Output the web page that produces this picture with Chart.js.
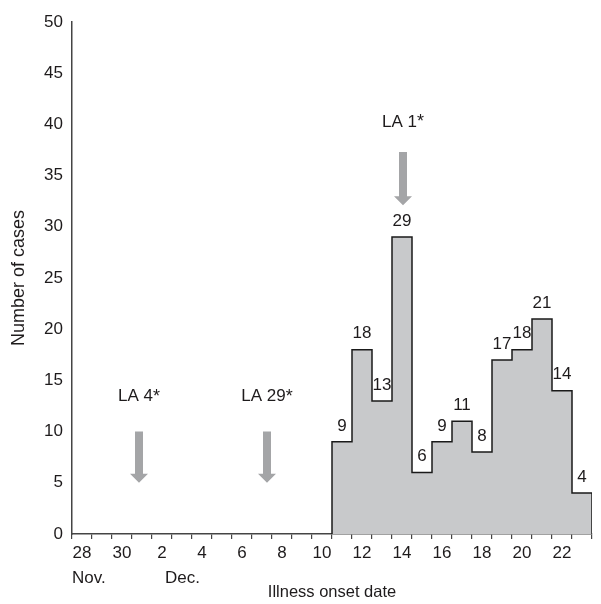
<!DOCTYPE html>
<html><head><meta charset="utf-8">
<script src="https://cdn.jsdelivr.net/npm/chart.js@4.4.1/dist/chart.umd.min.js"></script>
<style>html,body{margin:0;padding:0;background:#fff;}#wrap{width:601px;height:604px;}</style>
</head><body><div id="wrap"><canvas id="c" width="601" height="604"></canvas></div>
<script>
// ---- data ----
const axisDayLabels = ['28','30','2','4','6','8','10','12','14','16','18','20','22']; // every 2nd day from Nov 28
const monthLabels = ['Nov.', 'Dec.'];
const monthStartDay = [0, 4];               // axis day (days since Nov 28) under which month names sit
const onsetDecDays = [11,12,13,14,15,16,17,18,19,20,21,22,23];
const cases = [9,18,13,29,6,9,11,8,17,18,21,14,4];
const exposureLabels = ['LA 4', 'LA 29', 'LA 1'];
const exposureAxisDay = [3.35, 9.75, 16.55];
const exposureTextValue = [13.4, 13.4, 40.2];
const arrowFrom = [10, 10, 37.3];
const arrowTo = [5, 5, 32.1];
const yMax = 50, yStep = 5;

const FONT = '"Liberation Sans", Arial, Helvetica, sans-serif';
const TXT = '#1e1b1c';
const decToAxis = d => d + 2; // Dec 1 -> 3 (Nov 28 = 0)
const axisMax = decToAxis(onsetDecDays[onsetDecDays.length - 1]) + 1;

// step outline points built from the data
const stepPts = [{x: decToAxis(onsetDecDays[0]), y: 0}];
onsetDecDays.forEach((d, i) => stepPts.push({x: decToAxis(d), y: cases[i]}));
stepPts.push({x: decToAxis(onsetDecDays[onsetDecDays.length - 1]) + 1, y: 0});

const annot = {
  id: 'annot',
  afterDatasetsDraw(chart) {
    const {ctx, scales: {x, y}} = chart;
    ctx.save();
    ctx.fillStyle = TXT;
    ctx.textAlign = 'center';
    ctx.textBaseline = 'middle';
    ctx.font = '17px ' + FONT;
    onsetDecDays.forEach((d, i) => {
      const px = x.getPixelForValue(decToAxis(d) + 0.5);
      const py = y.getPixelForValue(cases[i]) - 16;
      ctx.fillText(String(cases[i]), px, py);
    });
    // arrows
    exposureLabels.forEach((lab, i) => {
      const cx = x.getPixelForValue(exposureAxisDay[i]);
      const y0 = y.getPixelForValue(arrowFrom[i]);
      const y1 = y.getPixelForValue(arrowTo[i]);
      const head = 9, hw = 9, sw = 4;
      ctx.fillStyle = '#a4a5a7';
      ctx.beginPath();
      ctx.moveTo(cx - sw, y0);
      ctx.lineTo(cx + sw, y0);
      ctx.lineTo(cx + sw, y1 - head);
      ctx.lineTo(cx + hw, y1 - head);
      ctx.lineTo(cx, y1);
      ctx.lineTo(cx - hw, y1 - head);
      ctx.lineTo(cx - sw, y1 - head);
      ctx.closePath();
      ctx.fill();
      // label with asterisk
      ctx.fillStyle = TXT;
      ctx.font = '17px ' + FONT;
      const w1 = ctx.measureText(lab).width;
      ctx.font = '18px ' + FONT;
      const w2 = ctx.measureText('*').width;
      const ty = y.getPixelForValue(exposureTextValue[i]);
      const left = cx - (w1 + w2) / 2;
      ctx.textAlign = 'left';
      ctx.font = '17px ' + FONT;
      ctx.fillText(lab, left, ty);
      ctx.font = '18px ' + FONT;
      ctx.fillText('*', left + w1, ty);
      ctx.textAlign = 'center';
    });
    // month names
    ctx.fillStyle = TXT;
    ctx.font = '17px ' + FONT;
    ctx.textAlign = 'left';
    monthLabels.forEach((m, i) => {
      const px = x.getPixelForValue(monthStartDay[i]) + (i === 0 ? 0 : 13);
      ctx.fillText(m, px, y.bottom + 44);
    });
    ctx.restore();
  }
};

new Chart(document.getElementById('c'), {
  type: 'line',
  data: {
    datasets: [{
      data: stepPts,
      stepped: 'before',
      borderColor: '#1a1a1a',
      borderWidth: 1.5,
      backgroundColor: '#c8c9cb',
      fill: 'origin',
      pointRadius: 0
    }]
  },
  options: {
    responsive: false,
    animation: false,
    layout: {padding: {top: 22, right: 9, left: 0, bottom: 0}},
    plugins: {legend: {display: false}, tooltip: {enabled: false}},
    scales: {
      x: {
        type: 'linear', min: 0, max: axisMax,
        afterFit: s => { s.height = 70; },
        border: {display: true, color: '#444', width: 1.5},
        grid: {display: true, drawOnChartArea: false, drawTicks: true, tickLength: 5, color: '#444', lineWidth: 1.2},
        ticks: {
          stepSize: 1, autoSkip: false, maxRotation: 0, labelOffset: 10, padding: 4,
          color: TXT, font: {size: 17, family: FONT},
          callback: v => (v % 2 === 0 && axisDayLabels[v / 2] !== undefined) ? axisDayLabels[v / 2] : ''
        },
        title: {display: true, text: 'Illness onset date', color: TXT, font: {size: 16.5, family: FONT}, padding: {top: 0, bottom: 2}}
      },
      y: {
        min: 0, max: yMax,
        afterFit: s => { s.width = 72; },
        border: {display: true, color: '#444', width: 1.5},
        grid: {display: false, drawTicks: false},
        ticks: {stepSize: yStep, padding: 9, color: TXT, font: {size: 17, family: FONT}},
        title: {display: true, text: 'Number of cases', color: TXT, font: {size: 18, family: FONT}, padding: {top: 8, bottom: 0}}
      }
    }
  },
  plugins: [annot]
});
</script></body></html>
